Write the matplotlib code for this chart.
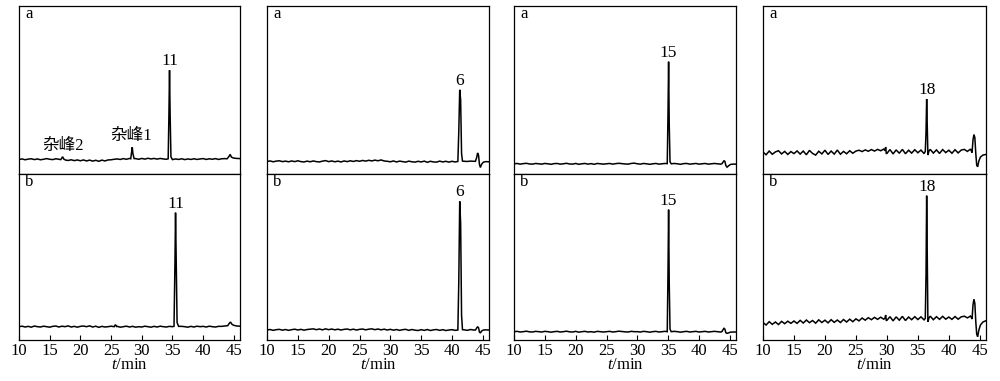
import numpy as np
import matplotlib
matplotlib.use("Agg")
import matplotlib.pyplot as plt

plt.rcParams['font.family'] = ['Liberation Serif', 'Noto Sans CJK SC']
plt.rcParams['mathtext.fontset'] = 'custom'
plt.rcParams['mathtext.rm'] = 'Liberation Serif'
plt.rcParams['mathtext.it'] = 'Liberation Serif:italic'

# ---------------- data ----------------
# sampling times of the baselines (min)
base_t = np.arange(10.0, 46.01, 0.5)

x_ticks = [10, 15, 20, 25, 30, 35, 40, 45]
x_tick_labels = ['10', '15', '20', '25', '30', '35', '40', '45']

# Column 1 -------------------------------------------------------------
base_1a = [8.4, 8.7, 8.2, 8.6, 8.8, 8.3, 8.7, 8.2, 8.5, 8.9,
           8.5, 8.3, 8.8, 8.5, 8.7, 8.1, 7.8, 8.2, 7.7, 8.1,
           7.6, 8.1, 7.5, 8.0, 7.4, 7.9, 7.3, 8.0, 7.5, 8.1,
           8.2, 8.5, 8.7, 8.4, 8.9, 8.5, 9.0, 8.6, 8.9, 8.5,
           9.0, 8.6, 9.1, 8.7, 9.0, 8.6, 9.0, 8.7, 8.5, 8.9,
           8.3, 8.7, 8.4, 8.8, 8.3, 8.7, 8.4, 8.8, 8.4, 8.7,
           8.9, 8.4, 8.8, 8.5, 8.9, 8.4, 8.8, 8.9, 8.8, 9.0,
           9.2, 9.0, 8.9]
peaks_1a = [
    ([16.8, 17.0, 17.1, 17.3, 17.6], [8.3, 9.4, 10.0, 8.6, 8.0]),
    ([28.2, 28.35, 28.45, 28.55, 28.75], [8.8, 13.0, 15.7, 12.0, 8.9]),
    ([34.3, 34.42, 34.52, 34.62, 34.75, 34.95], [8.8, 35.0, 61.7, 35.0, 10.0, 8.5]),
    ([43.9, 44.2, 44.4, 44.6, 44.9], [8.8, 10.2, 11.4, 9.8, 9.3]),
]
base_1b = [8.0, 8.3, 7.8, 8.2, 7.7, 8.4, 8.0, 7.8, 8.3, 8.0,
           7.7, 8.2, 8.4, 7.8, 8.3, 8.0, 8.5, 7.8, 8.2, 7.7,
           8.2, 8.4, 8.0, 8.5, 7.8, 8.3, 7.6, 8.2, 7.8, 8.0,
           8.3, 7.8, 8.2, 7.7, 8.0, 8.3, 7.8, 8.2, 7.7, 8.0,
           7.8, 8.3, 8.0, 7.7, 8.2, 7.8, 8.3, 8.0, 7.8, 8.2,
           8.0, 8.3, 7.8, 8.2, 8.0, 7.7, 8.2, 7.8, 8.3, 8.0,
           8.2, 7.8, 8.3, 8.0, 7.8, 8.2, 8.2, 8.4, 8.6, 8.8,
           8.6, 8.4, 8.3]
peaks_1b = [
    ([25.5, 25.7, 25.9], [8.0, 9.2, 8.1]),
    ([35.25, 35.4, 35.5, 35.6, 35.75, 36.0], [8.2, 45.0, 76.5, 50.0, 10.5, 8.2]),
    ([44.0, 44.25, 44.45, 44.7, 45.0], [8.6, 10.0, 10.8, 9.4, 8.8]),
]

# Column 2 -------------------------------------------------------------
base_2a = [7.2, 7.5, 7.0, 7.4, 7.6, 7.1, 7.4, 7.0, 7.5, 7.1,
           7.6, 7.1, 6.9, 7.4, 7.0, 7.5, 7.1, 6.9, 7.4, 7.7,
           7.1, 7.5, 7.0, 7.4, 6.9, 7.5, 7.1, 7.6, 7.2, 7.7,
           7.3, 7.8, 7.4, 7.9, 7.5, 8.0, 7.6, 8.1, 7.5, 7.3,
           7.0, 7.5, 6.9, 7.4, 7.1, 6.8, 7.4, 7.0, 6.8, 7.3,
           6.9, 7.4, 6.7, 7.3, 6.9, 6.8, 7.4, 6.9, 7.3, 6.8,
           7.3, 6.9, 7.3, 7.4, 7.3, 7.2, 7.4, 7.3, 7.3, 7.2,
           7.0, 7.1, 7.0]
peaks_2a = [
    ([40.95, 41.1, 41.25, 41.4, 41.55, 41.7], [7.2, 25.0, 50.0, 44.0, 12.0, 7.4]),
    ([43.8, 44.0, 44.15, 44.3, 44.45, 44.6, 44.8, 45.1], [7.3, 9.5, 12.3, 11.0, 5.5, 3.6, 5.5, 6.8]),
]
base_2b = [6.0, 6.3, 5.8, 6.2, 6.4, 5.9, 6.3, 5.8, 6.2, 6.5,
           6.0, 6.4, 5.9, 6.3, 6.5, 6.7, 6.2, 6.6, 6.1, 6.7,
           6.2, 6.6, 6.1, 6.5, 6.0, 6.4, 6.6, 6.1, 6.5, 6.0,
           6.4, 6.6, 6.1, 6.5, 6.7, 6.2, 6.6, 6.1, 6.5, 6.0,
           6.4, 5.9, 6.3, 5.8, 6.2, 6.4, 5.8, 6.3, 5.9, 5.7,
           6.2, 5.8, 6.3, 5.7, 6.1, 6.3, 5.8, 6.2, 5.7, 6.0,
           6.2, 5.8, 6.0, 6.3, 6.1, 5.8, 6.3, 6.0, 6.1, 6.0,
           5.9, 6.1, 6.0]
peaks_2b = [
    ([40.95, 41.1, 41.25, 41.4, 41.55, 41.7], [6.0, 35.0, 83.3, 70.0, 15.0, 6.2]),
    ([43.8, 44.0, 44.15, 44.3, 44.45, 44.6, 44.8, 45.1], [6.0, 7.2, 8.0, 7.4, 4.8, 4.2, 5.4, 6.0]),
]

# Column 3 -------------------------------------------------------------
base_3a = [5.8, 6.0, 5.6, 5.9, 6.1, 5.7, 5.6, 6.0, 5.8, 5.6,
           6.0, 5.8, 5.5, 5.9, 6.0, 5.6, 5.8, 6.1, 5.7, 5.6,
           6.0, 5.5, 5.8, 6.0, 5.6, 5.9, 5.5, 6.0, 5.8, 5.6,
           5.8, 6.0, 5.6, 5.9, 6.1, 5.9, 5.7, 5.6, 6.0, 6.2,
           5.8, 5.6, 6.0, 5.8, 5.5, 5.8, 6.0, 5.6, 5.8, 6.0,
           5.8, 5.6, 6.0, 5.8, 5.5, 5.9, 6.0, 5.6, 5.8, 6.0,
           5.6, 5.8, 6.0, 5.6, 5.8, 6.0, 5.8, 5.6, 5.8, 5.8,
           5.5, 5.6, 5.6]
peaks_3a = [
    ([34.85, 34.97, 35.07, 35.17, 35.3, 35.5], [5.9, 35.0, 66.8, 30.0, 7.0, 5.8]),
    ([43.7, 43.9, 44.05, 44.2, 44.35, 44.55, 44.8, 45.1], [5.8, 6.8, 7.7, 7.2, 4.8, 3.8, 4.6, 5.4]),
]
base_3b = [5.0, 5.2, 4.8, 5.0, 5.3, 4.9, 4.8, 5.2, 5.0, 4.8,
           5.2, 5.0, 4.7, 5.0, 5.2, 4.8, 5.0, 5.3, 4.9, 4.8,
           5.2, 4.7, 5.0, 5.2, 4.8, 5.0, 4.7, 5.2, 5.0, 4.8,
           5.0, 5.2, 4.8, 5.0, 5.3, 5.1, 4.9, 4.8, 5.2, 5.0,
           5.0, 4.8, 5.2, 5.0, 4.7, 5.0, 5.2, 4.8, 5.0, 5.2,
           5.0, 4.8, 5.2, 5.0, 4.7, 5.0, 5.2, 4.8, 5.0, 5.2,
           4.8, 5.0, 5.2, 4.8, 5.0, 5.2, 5.0, 4.8, 5.0, 5.0,
           4.7, 4.8, 4.8]
peaks_3b = [
    ([34.85, 34.97, 35.07, 35.17, 35.3, 35.5], [5.0, 40.0, 78.3, 35.0, 6.5, 5.0]),
    ([43.7, 43.9, 44.05, 44.2, 44.35, 44.55, 44.8, 45.1], [5.0, 6.2, 7.0, 6.5, 4.4, 4.0, 4.3, 4.7]),
]

# Column 4 -------------------------------------------------------------
base_4a = [12.8, 11.2, 13.4, 11.5, 12.9, 13.6, 11.7, 13.2, 11.4, 13.1,
           11.9, 13.5, 11.6, 13.4, 11.2, 13.8, 12.0, 11.0, 13.3, 11.7,
           13.9, 11.4, 13.4, 11.6, 14.0, 11.5, 13.2, 11.8, 13.6, 12.1,
           13.4, 13.9, 13.1, 14.1, 13.3, 14.3, 13.4, 14.4, 13.6, 14.6,
           12.0, 14.3, 11.7, 14.1, 12.1, 14.4, 11.8, 13.9, 12.2, 14.2,
           12.4, 14.0, 11.9, 13.0, 14.4, 12.2, 14.1, 12.0, 14.3, 12.5,
           13.9, 12.1, 14.2, 12.3, 14.0, 14.4, 13.2, 14.6, 13.6, 13.0,
           10.0, 11.0, 11.5]
peaks_4a = [
    ([29.7, 29.8, 29.9], [13.6, 15.8, 12.0]),
    ([36.2, 36.32, 36.42, 36.52, 36.62, 36.8], [13.2, 25.0, 44.5, 28.0, 11.0, 13.5]),
    ([43.6, 43.75, 43.9, 44.05, 44.2, 44.35, 44.5, 44.65, 44.85, 45.1, 45.5, 46.0],
     [13.8, 12.5, 20.0, 23.2, 21.5, 12.0, 5.0, 4.0, 7.5, 9.8, 11.0, 11.4]),
]
base_4b = [10.5, 9.0, 11.0, 9.4, 10.8, 9.3, 11.2, 9.8, 11.3, 10.0,
           11.4, 10.0, 11.8, 10.2, 12.0, 10.4, 11.7, 10.1, 12.1, 10.5,
           11.9, 10.3, 12.2, 10.6, 12.0, 10.5, 12.3, 10.8, 12.5, 11.0,
           12.7, 11.5, 13.2, 11.9, 13.4, 12.2, 13.6, 12.4, 13.7, 12.5,
           11.8, 14.0, 11.5, 13.9, 11.9, 14.2, 11.7, 13.8, 12.2, 14.0,
           12.3, 13.9, 12.1, 13.0, 14.3, 12.2, 14.0, 12.4, 14.2, 12.5,
           13.8, 12.4, 14.1, 12.5, 13.9, 14.3, 13.3, 14.4, 13.5, 13.0,
           9.0, 10.8, 11.6]
peaks_4b = [
    ([29.7, 29.8, 29.9], [13.2, 15.0, 11.8]),
    ([36.2, 36.32, 36.42, 36.52, 36.62, 36.8], [13.0, 40.0, 86.7, 50.0, 11.0, 13.3]),
    ([43.6, 43.75, 43.9, 44.05, 44.2, 44.35, 44.5, 44.65, 44.85, 45.1, 45.5, 46.0],
     [13.8, 12.6, 21.0, 24.5, 22.0, 11.0, 3.5, 2.0, 6.0, 9.0, 10.8, 11.6]),
]

# peak labels: (time, apex height, text)
labels_1a = [(34.52, 61.7, '11'), (28.3, 17.3, '杂峰1'), (17.2, 11.0, '杂峰2')]
labels_1b = [(35.5, 76.5, '11')]
labels_2a = [(41.25, 50.0, '6')]
labels_2b = [(41.25, 83.3, '6')]
labels_3a = [(35.07, 66.8, '15')]
labels_3b = [(35.07, 78.3, '15')]
labels_4a = [(36.42, 44.5, '18')]
labels_4b = [(36.42, 86.7, '18')]

columns = [
    ((base_1a, peaks_1a, labels_1a), (base_1b, peaks_1b, labels_1b)),
    ((base_2a, peaks_2a, labels_2a), (base_2b, peaks_2b, labels_2b)),
    ((base_3a, peaks_3a, labels_3a), (base_3b, peaks_3b, labels_3b)),
    ((base_4a, peaks_4a, labels_4a), (base_4b, peaks_4b, labels_4b)),
]


def build_trace(base, peaks):
    t = np.asarray(base_t, dtype=float)
    y = np.asarray(base, dtype=float)
    keep = np.ones(len(t), dtype=bool)
    for pt, _ in peaks:
        keep &= ~((t >= pt[0]) & (t <= pt[-1]))
    ts = list(t[keep])
    ys = list(y[keep])
    for pt, py in peaks:
        ts += list(pt)
        ys += list(py)
    order = np.argsort(ts, kind='stable')
    return np.asarray(ts)[order], np.asarray(ys)[order]


# ---------------- figure ----------------
fig = plt.figure(figsize=(10.0, 3.81), dpi=100)
lefts = [0.019, 0.267, 0.514, 0.763]
widths = [0.221, 0.222, 0.222, 0.223]
y_bottom = 0.1076
y_mid = 0.5446
y_top = 0.984

for ci, (top_data, bot_data) in enumerate(columns):
    for ri, (base, peaks, labels) in enumerate([top_data, bot_data]):
        if ri == 0:
            ax = fig.add_axes([lefts[ci], y_mid, widths[ci], y_top - y_mid])
        else:
            ax = fig.add_axes([lefts[ci], y_bottom, widths[ci], y_mid - y_bottom])
        t, y = build_trace(base, peaks)
        ax.plot(t, y, color='black', lw=1.1, solid_joinstyle='miter')
        ax.set_xlim(10, 46)
        ax.set_ylim(0, 100)
        ax.set_yticks([])
        for s in ax.spines.values():
            s.set_linewidth(0.9)
        ax.set_xticks(x_ticks)
        if ri == 0:
            ax.tick_params(axis='x', which='both', bottom=False, labelbottom=False)
        else:
            ax.set_xticklabels(x_tick_labels)
            ax.tick_params(axis='x', direction='in', length=3.5, width=0.8,
                           pad=2, labelsize=12)
            ax.set_xlabel('$t$/min', fontsize=12, labelpad=-1)
        ax.text(0.045, 0.95, 'a' if ri == 0 else 'b', transform=ax.transAxes,
                ha='center', va='center', fontsize=12)
        for lt, ly, txt in labels:
            fs = 12 if '峰' in txt else 12.5
            ax.text(lt, ly + 0.5, txt, ha='center', va='bottom', fontsize=fs)

fig.savefig('out.png', dpi=100)
